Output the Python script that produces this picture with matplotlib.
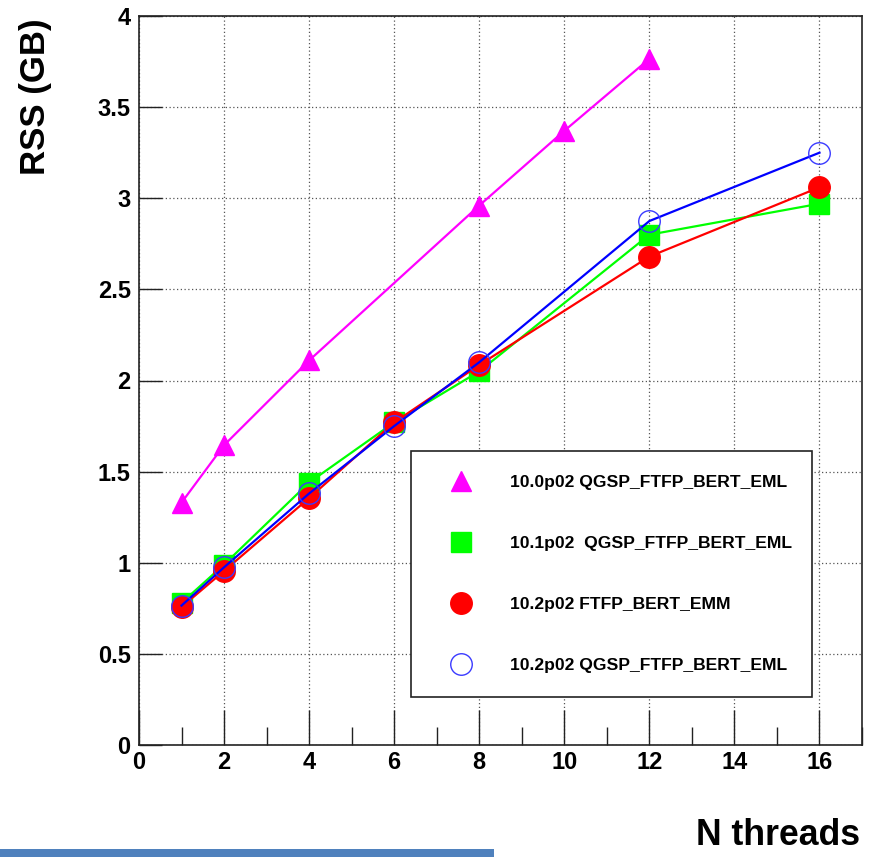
import matplotlib
matplotlib.use("Agg")
import matplotlib.pyplot as plt
from matplotlib.lines import Line2D
from matplotlib.patches import Rectangle
from matplotlib.ticker import MultipleLocator

plt.rcParams['font.family'] = ['Liberation Sans', 'DejaVu Sans']
plt.rcParams['font.weight'] = 'bold'

# Data
x_v100 = [1, 2, 4, 8, 10, 12]
rss_v100 = [1.33, 1.645, 2.11, 2.96, 3.37, 3.765]

x_v101 = [1, 2, 4, 6, 8, 12, 16]
rss_v101 = [0.78, 0.99, 1.44, 1.77, 2.05, 2.80, 2.97]

x_v102_emm = [1, 2, 4, 6, 8, 12, 16]
rss_v102_emm = [0.757, 0.955, 1.355, 1.77, 2.085, 2.68, 3.06]

x_v102_eml = [1, 2, 4, 6, 8, 12, 16]
rss_v102_eml = [0.765, 0.975, 1.38, 1.75, 2.10, 2.875, 3.25]

labels = ["10.0p02 QGSP_FTFP_BERT_EML",
          "10.1p02  QGSP_FTFP_BERT_EML",
          "10.2p02 FTFP_BERT_EMM",
          "10.2p02 QGSP_FTFP_BERT_EML"]

W, H = 874, 857
fig = plt.figure(figsize=(W / 100, H / 100), dpi=100)
ax = fig.add_axes([139 / W, 1 - 745 / H, (862 - 139) / W, (745 - 16) / H])

lw = 1.6
ax.plot(x_v100, rss_v100, color='#ff00ff', lw=lw, marker='^', ms=14.5, mfc='#ff00ff',
        mec='#ff00ff', zorder=3)
ax.plot(x_v101, rss_v101, color='#00ff00', lw=lw, marker='s', ms=14, mfc='#00ff00',
        mec='#00ff00', zorder=3)
ax.plot(x_v102_emm, rss_v102_emm, color='#ff0000', lw=lw, marker='o', ms=15.5,
        mfc='#ff0000', mec='#ff0000', zorder=4)
ax.plot(x_v102_eml, rss_v102_eml, color='#0000ff', lw=lw, zorder=5)
ax.plot(x_v102_eml, rss_v102_eml, ls='none', marker='o', ms=15.5, mfc='none',
        mec='#3a3aff', mew=1.0, zorder=5)

ax.set_xlim(0, 17)
ax.set_ylim(0, 4)
ax.xaxis.set_minor_locator(MultipleLocator(1))
ax.set_xticks([0, 2, 4, 6, 8, 10, 12, 14, 16])
ax.set_xticklabels(['0', '2', '4', '6', '8', '10', '12', '14', '16'])
ax.set_yticks([0, 0.5, 1, 1.5, 2, 2.5, 3, 3.5, 4])
ax.set_yticklabels(['0', '0.5', '1', '1.5', '2', '2.5', '3', '3.5', '4'])

ax.tick_params(axis='x', which='major', direction='in', length=25, width=1.0,
               labelsize=17, pad=4, color='#222222')
ax.tick_params(axis='x', which='minor', direction='in', length=13, width=1.0,
               color='#222222')
ax.tick_params(axis='y', which='major', direction='in', length=16.5, width=1.0,
               labelsize=17, pad=6, color='#222222')
for lab in ax.get_xticklabels() + ax.get_yticklabels():
    lab.set_fontweight('bold')

ax.grid(True, which='major', ls=(0, (1, 2)), color='#555555', lw=0.9)
ax.set_axisbelow(True)
for s in ax.spines.values():
    s.set_linewidth(1.2)
    s.set_color('#222222')

handles = [
    Line2D([], [], ls='none', marker='^', ms=14.5, color='#ff00ff'),
    Line2D([], [], ls='none', marker='s', ms=14, color='#00ff00'),
    Line2D([], [], ls='none', marker='o', ms=15.5, color='#ff0000'),
    Line2D([], [], ls='none', marker='o', ms=15.5, mfc='none', mec='#3a3aff', mew=1.0),
]
x0 = (410.7 - 139) / 723
x1 = (812 - 139) / 723
y0 = (745 - 697) / 729
y1 = (745 - 453) / 729
leg = ax.legend(handles, labels, loc='lower left',
                bbox_to_anchor=(x0, y0, x1 - x0, y1 - y0), mode='expand',
                prop={'size': 12.6, 'weight': 'bold'}, frameon=True, fancybox=False,
                framealpha=1, edgecolor='#222222', borderpad=1.36, labelspacing=2.62,
                handlelength=3.06, handletextpad=1.27, borderaxespad=0)
leg.get_frame().set_linewidth(1.2)
leg.set_zorder(10)

fig.text(35 / W, 1 - 18 / H, 'RSS (GB)', rotation=90, ha='center', va='top',
         fontsize=25, fontweight='bold')
fig.text(860 / W, 1 - 845 / H, 'N threads', ha='right', va='baseline',
         fontsize=25.7, fontweight='bold')

fig.patches.append(Rectangle((0, 0), 494 / W, 8 / H, transform=fig.transFigure,
                             facecolor='#4f81bd', edgecolor='none'))

fig.savefig('out.png', dpi=100)
